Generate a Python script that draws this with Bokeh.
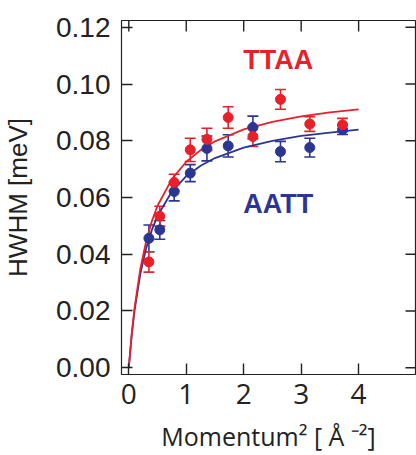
import math
from bokeh.plotting import figure
from bokeh.models import (Range1d, FixedTicker, PrintfTickFormatter,
                          ColumnDataSource, Whisker, Label)
from bokeh.embed import file_html
from bokeh.resources import INLINE

# ---- data ----
q2 = [0.35, 0.54, 0.79, 1.07, 1.36, 1.73, 2.16, 2.64, 3.15, 3.72]

ttaa = [0.0373, 0.0534, 0.0653, 0.0768, 0.0805, 0.0882, 0.0815, 0.0946, 0.0859, 0.0856]
ttaa_err = [0.0036, 0.0035, 0.0029, 0.0041, 0.0039, 0.0038, 0.0035, 0.0035, 0.0026, 0.0023]

aatt = [0.0456, 0.0486, 0.0621, 0.0686, 0.0773, 0.0782, 0.0847, 0.0762, 0.0776, 0.0839]
aatt_err = [0.0047, 0.0033, 0.0033, 0.0030, 0.0044, 0.0039, 0.0040, 0.0036, 0.0033, 0.0017]

# fitted curves, points
curve_q2 = [0.0, 0.05, 0.1, 0.2, 0.3, 0.4, 0.5, 0.75, 1.0, 1.25, 1.5, 2.0, 2.5, 3.0, 3.5, 4.0]
ttaa_fit = [0.0, 0.0118, 0.0211, 0.0348, 0.0444, 0.0516, 0.0571, 0.0665, 0.0726, 0.0767,
            0.0798, 0.0840, 0.0867, 0.0886, 0.0900, 0.0911]
aatt_fit = [0.0, 0.0113, 0.0201, 0.0330, 0.0419, 0.0485, 0.0535, 0.0621, 0.0675, 0.0712,
            0.0739, 0.0776, 0.0800, 0.0817, 0.0829, 0.0839]

x_ticks = [0, 1, 2, 3, 4]
y_ticks = [0.00, 0.02, 0.04, 0.06, 0.08, 0.10, 0.12]

RED = "#e8202a"
BLUE = "#2b3592"
INK = "#222222"

XR = Range1d(-0.127, 4.99)
YR = Range1d(-0.0024, 0.1224)

p = figure(width=416, height=455, output_backend="svg", toolbar_location=None,
           x_range=XR, y_range=YR,
           min_border_left=121, min_border_top=20, min_border_right=1, min_border_bottom=73)
p.background_fill_color = "white"
p.border_fill_color = "white"
p.outline_line_color = INK
p.outline_line_width = 1.2
p.grid.visible = False

xa = p.xaxis[0]
xa.ticker = FixedTicker(ticks=x_ticks)
xa.major_tick_in = 11
xa.major_tick_out = 0
xa.minor_tick_line_color = None
xa.major_tick_line_width = 1.4
xa.major_tick_line_color = INK
xa.axis_line_color = INK
xa.major_label_text_font = "Open Sans"
xa.major_label_text_font_size = "28px"
xa.major_label_text_color = INK
xa.major_label_standoff = 9
xa.axis_label = "Momentum² [ Å ⁻²]"
xa.axis_label_text_font = "Open Sans"
xa.axis_label_text_font_size = "25px"
xa.axis_label_text_font_style = "normal"
xa.axis_label_text_color = INK
xa.axis_label_standoff = 12

ya = p.yaxis[0]
ya.ticker = FixedTicker(ticks=y_ticks)
ya.formatter = PrintfTickFormatter(format="%.2f")
ya.major_tick_in = 11
ya.major_tick_out = 0
ya.minor_tick_line_color = None
ya.major_tick_line_width = 1.4
ya.major_tick_line_color = INK
ya.axis_line_color = INK
ya.major_label_text_font = "Liberation Sans"
ya.major_label_text_font_size = "28px"
ya.major_label_text_color = INK
ya.major_label_standoff = 11
ya.axis_label = "HWHM [meV]"
ya.axis_label_text_font = "Liberation Sans"
ya.axis_label_text_font_size = "26px"
ya.axis_label_text_font_style = "normal"
ya.axis_label_text_color = INK
ya.axis_label_standoff = 20

# mirrored inward ticks on top and right edges (clipped to the frame)
p.scatter(x=x_ticks, y=[YR.end] * len(x_ticks), marker="dash", size=22,
          angle=math.pi / 2, line_color=INK, line_width=1.4)
p.scatter(x=[XR.end] * len(y_ticks), y=y_ticks, marker="dash", size=20,
          line_color=INK, line_width=1.4)

# curves
p.line(curve_q2, aatt_fit, line_color=BLUE, line_width=1.8)
p.line(curve_q2, ttaa_fit, line_color=RED, line_width=1.8)

# error bars + points
src_b = ColumnDataSource(dict(x=q2, y=aatt,
                              lo=[v - e for v, e in zip(aatt, aatt_err)],
                              hi=[v + e for v, e in zip(aatt, aatt_err)]))
src_r = ColumnDataSource(dict(x=q2, y=ttaa,
                              lo=[v - e for v, e in zip(ttaa, ttaa_err)],
                              hi=[v + e for v, e in zip(ttaa, ttaa_err)]))

for src, col in ((src_b, BLUE), (src_r, RED)):
    w = Whisker(source=src, base="x", lower="lo", upper="hi",
                line_color=col, line_width=1.6)
    w.upper_head.size = 11
    w.lower_head.size = 11
    w.upper_head.line_color = col
    w.lower_head.line_color = col
    w.upper_head.line_width = 1.6
    w.lower_head.line_width = 1.6
    p.add_layout(w)

p.scatter("x", "y", source=src_b, size=10, fill_color=BLUE, line_color=BLUE)
p.scatter("x", "y", source=src_r, size=10, fill_color=RED, line_color=RED)

p.add_layout(Label(x=2.6, y=0.1086, text="TTAA", text_color=RED, text_font="Liberation Sans",
                   text_font_size="27px", text_font_style="bold",
                   text_align="center", text_baseline="middle"))
p.add_layout(Label(x=2.6, y=0.0576, text="AATT", text_color=BLUE, text_font="Liberation Sans",
                   text_font_size="27px", text_font_style="bold",
                   text_align="center", text_baseline="middle"))

open("out.html", "w").write(file_html(p, INLINE))
